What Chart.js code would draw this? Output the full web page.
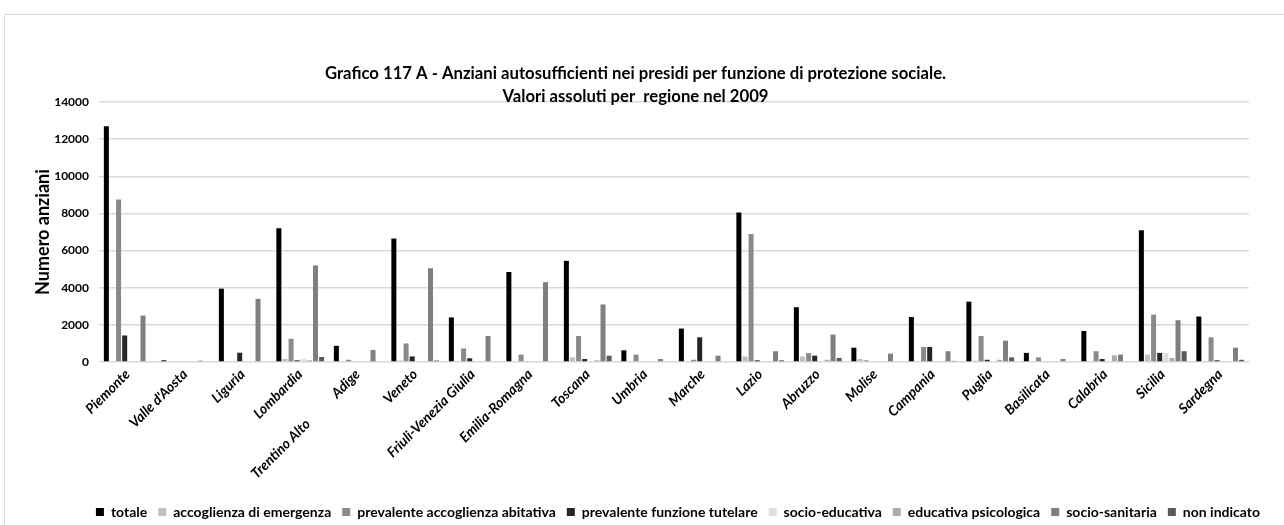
<!DOCTYPE html>
<html>
<head>
  <title>Grafico 117 A</title>
  <script src="https://cdn.jsdelivr.net/npm/chart.js"></script>
  <style>
    body { margin: 0; background: #fff; overflow: hidden; }
    #frame { position: absolute; left: 4px; top: 14px; width: 1300px; height: 600px; border: 1px solid #d9d9d9; }
    #wrap { position: absolute; left: 0; top: 0; width: 1284px; height: 529px; }
  </style>
</head>
<body>
  <div id="frame"></div>
  <div id="wrap"><canvas id="chart"></canvas></div>

  <script>
    // regioni (Trentino Alto Adige is split with a gap like in the original sheet)
    const regioni = ['Piemonte', "Valle d'Aosta", 'Liguria', 'Lombardia', 'Trentino Alto            Adige', 'Veneto',
      'Friuli-Venezia Giulia', 'Emilia-Romagna', 'Toscana', 'Umbria', 'Marche', 'Lazio', 'Abruzzo', 'Molise',
      'Campania', 'Puglia', 'Basilicata', 'Calabria', 'Sicilia', 'Sardegna'];

    const totale          = [12700, 90, 3950, 7200, 870, 6650, 2400, 4850, 5450, 630, 1800, 8050, 2950, 770, 2420, 3250, 490, 1670, 7100, 2450];
    const emergenza       = [0, 0, 0, 160, 0, 80, 0, 0, 250, 0, 0, 300, 300, 160, 0, 70, 0, 0, 400, 0];
    const abitativa       = [8750, 0, 0, 1250, 120, 1000, 730, 400, 1400, 400, 120, 6900, 480, 90, 810, 1400, 250, 580, 2550, 1330];
    const tutelare        = [1430, 0, 500, 90, 0, 300, 200, 0, 160, 0, 1330, 90, 340, 0, 810, 120, 0, 160, 490, 90];
    const socioEducativa  = [0, 0, 0, 160, 0, 0, 0, 50, 0, 0, 0, 0, 0, 0, 0, 0, 0, 0, 490, 0];
    const psicologica     = [0, 0, 0, 90, 0, 0, 0, 0, 90, 0, 0, 0, 120, 0, 0, 120, 0, 360, 220, 0];
    const socioSanitaria  = [2500, 70, 3400, 5200, 650, 5050, 1400, 4300, 3100, 160, 340, 580, 1480, 450, 580, 1150, 160, 400, 2250, 770];
    const nonIndicato     = [0, 0, 0, 270, 0, 80, 0, 0, 340, 0, 0, 90, 220, 0, 60, 250, 0, 0, 580, 120];

    const yTicks = [0, 2000, 4000, 6000, 8000, 10000, 12000, 14000];

    const serie = [
      ['totale', totale, '#000000'],
      ['accoglienza di emergenza', emergenza, '#bfbfbf'],
      ['prevalente accoglienza abitativa', abitativa, '#8a8a8a'],
      ['prevalente funzione tutelare', tutelare, '#262626'],
      ['socio-educativa', socioEducativa, '#dedede'],
      ['educativa psicologica', psicologica, '#ababab'],
      ['socio-sanitaria', socioSanitaria, '#7f7f7f'],
      ['non indicato', nonIndicato, '#5a5a5a']
    ];

    const font = 'Lato, "Open Sans", sans-serif';

    new Chart(document.getElementById('chart'), {
      type: 'bar',
      data: {
        labels: regioni,
        datasets: serie.map(s => ({
          label: s[0],
          data: s[1],
          backgroundColor: s[2],
          categoryPercentage: 0.85,
          barPercentage: 0.82
        }))
      },
      options: {
        responsive: true,
        maintainAspectRatio: false,
        animation: false,
        layout: { padding: { left: 0, right: 13, top: 0, bottom: 0 } },
        plugins: {
          title: {
            display: true,
            text: ['Grafico 117 A - Anziani autosufficienti nei presidi per funzione di protezione sociale.',
                   'Valori assoluti per  regione nel 2009'],
            color: '#000',
            font: { family: font, size: 16.7, weight: 'bold', lineHeight: 1.38 },
            padding: { top: 62, bottom: -6 }
          },
          legend: {
            position: 'bottom',
            align: 'end',
            labels: {
              color: '#000',
              font: { family: font, size: 14, weight: 'bold' },
              boxWidth: 8,
              boxHeight: 8,
              padding: 11
            }
          },
          tooltip: { enabled: false }
        },
        scales: {
          x: {
            grid: { display: false, drawTicks: false },
            border: { display: false },
            ticks: {
              color: '#000',
              font: { family: font, size: 14, weight: 'bold', style: 'italic' },
              maxRotation: 45,
              minRotation: 45,
              padding: 4,
              autoSkip: false
            },
            afterFit: s => { s.height = 132; }
          },
          y: {
            min: 0,
            max: 14000,
            grid: { color: '#d9d9d9', lineWidth: 1.5, drawTicks: false },
            border: { display: false },
            afterBuildTicks: s => { s.ticks = yTicks.map(v => ({ value: v })); },
            ticks: {
              color: '#000',
              font: { family: font, size: 12, weight: 'bold' },
              padding: 10,
              callback: v => String(v)
            },
            title: {
              display: true,
              text: 'Numero anziani',
              color: '#000',
              font: { family: font, size: 18, weight: 'bold' },
              padding: { top: 32 }
            },
            afterFit: s => { s.width = 99; }
          },
          spacer: {
            position: 'right',
            display: true,
            grid: { display: false },
            border: { display: false },
            ticks: { display: false },
            afterFit: s => { s.width = 22; }
          }
        }
      }
    });
  </script>
</body>
</html>
